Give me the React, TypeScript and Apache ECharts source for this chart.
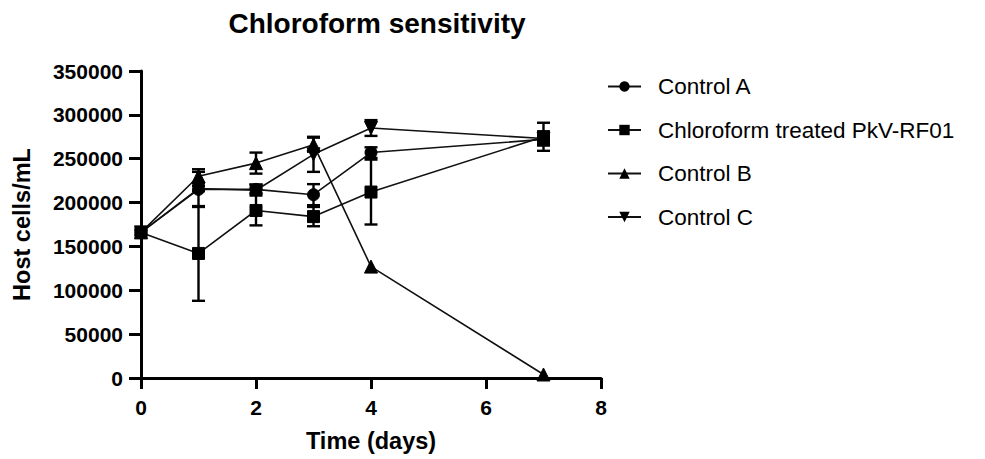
import React, { useEffect, useRef } from "react";
import * as echarts from "echarts";

const days = [0, 1, 2, 3, 4, 7];
const controlA = [166000, 215000, 215000, 209000, 257000, 272000];
const controlAErr = [0, 20000, 5000, 12000, 6000, 5000];
const treated = [166000, 142000, 191000, 184000, 212000, 275000];
const treatedErr = [3000, 54000, 17000, 11000, 37000, 16000];
const controlB = [166000, 230000, 245000, 266000, 127000, 4000];
const controlBErr = [0, 8000, 12000, 8000, 0, 0];
const controlC = [166000, 216000, 214000, 255000, 285000, 273000];
const controlCErr = [0, 3000, 3000, 20000, 9000, 8000];

const xTicks = [0, 2, 4, 6, 8];
const yTicks = [0, 50000, 100000, 150000, 200000, 250000, 300000, 350000];

const FONT = "Liberation Sans, Arial, sans-serif";
const INV_TRI = "path://M0,0 L10,0 L5,9 Z";

function lineSeries(name: string, vals: number[], symbol: string, size: number) {
  return {
    name,
    type: "line",
    data: days.map((d, i) => [d, vals[i]]),
    symbol,
    symbolSize: size,
    showSymbol: true,
    lineStyle: { color: "#111", width: 1.6 },
    itemStyle: { color: "#000", borderColor: "#000" },
    z: 5,
    emphasis: { disabled: true },
  };
}

function errSeries(vals: number[], errs: number[]) {
  return {
    type: "custom",
    data: days.map((d, i) => [d, vals[i], errs[i]]),
    silent: true,
    z: 4,
    renderItem: (params: any, api: any) => {
      const x = api.value(0);
      const y = api.value(1);
      const e = api.value(2);
      if (!e) return { type: "group", children: [] };
      const top = api.coord([x, y + e]);
      const bot = api.coord([x, y - e]);
      const hw = 6.5;
      const st = { stroke: "#000", lineWidth: 2.4 };
      return {
        type: "group",
        children: [
          { type: "line", shape: { x1: top[0], y1: top[1], x2: bot[0], y2: bot[1] }, style: st },
          { type: "line", shape: { x1: top[0] - hw, y1: top[1], x2: top[0] + hw, y2: top[1] }, style: st },
          { type: "line", shape: { x1: bot[0] - hw, y1: bot[1], x2: bot[0] + hw, y2: bot[1] }, style: st },
        ],
      };
    },
  };
}

export default function App() {
  const ref = useRef<HTMLDivElement>(null);
  useEffect(() => {
    if (!ref.current) return;
    const chart = echarts.init(ref.current, undefined, { renderer: "svg" });
    chart.setOption({
      animation: false,
      backgroundColor: "#fff",
      title: {
        text: "Chloroform sensitivity",
        left: 372,
        textAlign: "center",
        top: 4,
        textStyle: { fontFamily: FONT, fontSize: 28, fontWeight: "bold", color: "#000" },
      },
      grid: { left: 141, right: 384, top: 71, bottom: 81 },
      legend: {
        orient: "vertical",
        left: 607,
        top: 75,
        padding: 0,
        itemWidth: 33,
        itemHeight: 13,
        itemGap: 20.5,
        textStyle: { fontFamily: FONT, fontSize: 22.5, color: "#000", padding: [0, 0, 0, 12] },
        data: ["Control A", "Chloroform treated PkV-RF01", "Control B", "Control C"],
      },
      xAxis: {
        type: "value",
        min: xTicks[0],
        max: xTicks[xTicks.length - 1],
        interval: 2,
        name: "Time (days)",
        nameLocation: "middle",
        nameGap: 51,
        nameTextStyle: { fontFamily: FONT, fontSize: 23.5, fontWeight: "bold", color: "#000" },
        axisLine: { show: true, onZero: false, lineStyle: { color: "#000", width: 3 } },
        axisTick: { show: true, length: 11, lineStyle: { color: "#000", width: 3 } },
        axisLabel: { fontFamily: FONT, fontSize: 21, fontWeight: "bold", color: "#000", margin: 19 },
        splitLine: { show: false },
      },
      yAxis: {
        type: "value",
        min: yTicks[0],
        max: yTicks[yTicks.length - 1],
        interval: 50000,
        name: "Host cells/mL",
        nameLocation: "middle",
        nameGap: 107,
        nameTextStyle: { fontFamily: FONT, fontSize: 23.5, fontWeight: "bold", color: "#000" },
        axisLine: { show: true, lineStyle: { color: "#000", width: 3 } },
        axisTick: { show: true, length: 12, lineStyle: { color: "#000", width: 3 } },
        axisLabel: {
          fontFamily: FONT,
          fontSize: 21,
          fontWeight: "bold",
          color: "#000",
          margin: 18,
          formatter: (v: number) => String(v),
        },
        splitLine: { show: false },
      },
      series: [
        lineSeries("Control A", controlA, "circle", 12),
        lineSeries("Chloroform treated PkV-RF01", treated, "rect", 12),
        lineSeries("Control B", controlB, "triangle", 13),
        lineSeries("Control C", controlC, INV_TRI, 13),
        errSeries(controlA, controlAErr),
        errSeries(treated, treatedErr),
        errSeries(controlB, controlBErr),
        errSeries(controlC, controlCErr),
      ],
    });
    return () => chart.dispose();
  }, []);
  return (
    <div
      ref={ref}
      style={{ position: "fixed", left: 0, top: 0, width: 985, height: 459, background: "#fff" }}
    />
  );
}
